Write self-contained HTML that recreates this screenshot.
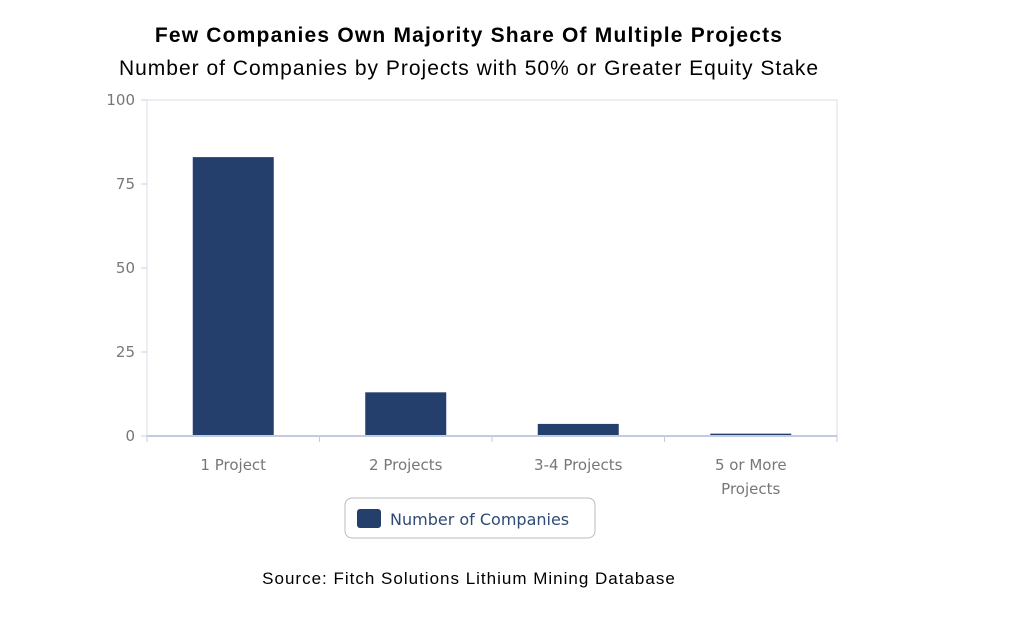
<!DOCTYPE html>
<html><head><meta charset="utf-8"><style>
body{margin:0;background:#fff;width:1024px;height:619px;overflow:hidden;font-family:"DejaVu Sans","Liberation Sans",sans-serif}
#title{position:absolute;left:0;width:938px;top:24px;text-align:center;font:bold 21px "Liberation Sans",sans-serif;letter-spacing:1.2px;color:#000}
#sub{position:absolute;left:0;width:938px;top:57px;text-align:center;font:21px "Liberation Sans",sans-serif;letter-spacing:1px;color:#000}
#src{position:absolute;left:0;width:938px;top:569px;text-align:center;font:17px "Liberation Sans",sans-serif;letter-spacing:1px;color:#000}
</style></head><body>
<div id="title">Few Companies Own Majority Share Of Multiple Projects</div>
<div id="sub">Number of Companies by Projects with 50% or Greater Equity Stake</div>
<svg id="chart" width="1024" height="619" style="position:absolute;left:0;top:0"></svg>
<div id="src">Source: Fitch Solutions Lithium Mining Database</div>
<script>
const categories=[["1 Project"],["2 Projects"],["3-4 Projects"],["5 or More","Projects"]];
const values=[83,13,3.6,0.7];
const yTicks=[0,25,50,75,100];
const seriesName="Number of Companies";
const L=147,R=837,T=100,B=436,yMax=100;
const NS="http://www.w3.org/2000/svg";
const svg=document.getElementById('chart');
function y(v){return B-(v/yMax)*(B-T);}
const bw=(R-L)/categories.length;
function x(i){return L+bw*i;}
function mk(t,a,p){const e=document.createElementNS(NS,t);for(const k in a)e.setAttribute(k,a[k]);(p||svg).appendChild(e);return e;}
let frame=mk('rect',{x:L,y:T,width:R-L,height:B-T,fill:'none',stroke:'#d7dce4','stroke-width':1});


yTicks.forEach(t=>{
 let tk=mk('line',{x1:L-6,x2:L,y1:y(t),y2:y(t),stroke:'#c8cfdb'});
 
 
 let tx=mk('text',{x:L-12,y:y(t)+5,'text-anchor':'end','font-size':15,fill:'#777','font-family':'DejaVu Sans,sans-serif'});
 tx.textContent=t;
 
 
});
let ax=mk('line',{x1:L,x2:R,y1:B,y2:B,stroke:'#c2cbe0','stroke-width':2});


for(let i=0;i<=categories.length;i++){
 let tk=mk('line',{x1:x(i),x2:x(i),y1:B,y2:B+6,stroke:'#c2cbe0'});
 
 
}
categories.forEach((c,i)=>{
 const cx=x(i)+bw/2;
 let r=mk('rect',{x:cx-40.5,y:y(values[i]),width:81,height:B-1-y(values[i]),fill:'#253f6c'});
 
 
 c.forEach((ln,j)=>{
  let t=mk('text',{x:cx,y:470+j*24,'text-anchor':'middle','font-size':15,fill:'#777','font-family':'DejaVu Sans,sans-serif'});
  t.textContent=ln;
  
  
 });
});
let lg=mk('g',{});


mk('rect',{x:345,y:498,width:250,height:40,rx:7,fill:'#fff',stroke:'#bbb'},lg);
mk('rect',{x:357,y:509,width:24,height:19,rx:3,fill:'#253f6c'},lg);
let lt=mk('text',{x:390,y:525,'font-size':16,fill:'#2f4a75','font-family':'DejaVu Sans,sans-serif'},lg);
lt.textContent=seriesName;


</script>
</body></html>
